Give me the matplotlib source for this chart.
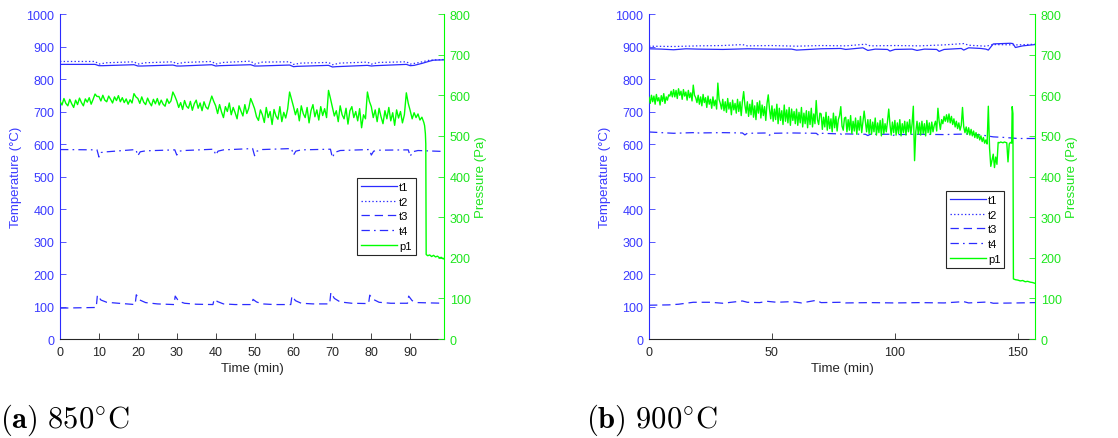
import numpy as np
import matplotlib
matplotlib.use('Agg')
import matplotlib.pyplot as plt

# ---------------- (a) 850 C run ----------------
a_t1_time = [0, 9, 10, 11, 19, 20, 21, 29, 30, 31, 39, 40, 41, 49, 50, 51, 59, 60, 61,
             69, 70, 71, 79, 80, 81, 89, 90, 91, 93, 95, 96, 98.7]
a_t1 = [845, 845, 841, 841, 844, 840, 840, 843, 840, 840, 844, 840, 841, 844, 840, 840,
        843, 838, 839, 842, 837, 838, 842, 840, 841, 845, 841, 842, 848, 855, 858, 859]

a_t2_time = [0, 9, 10, 12, 19, 20, 22, 29, 30, 32, 39, 40, 42, 49, 50, 52, 59, 60, 62,
             69, 70, 72, 79, 80, 82, 89, 90, 92, 95, 98.7]
a_t2 = [854, 854, 846, 850, 853, 846, 850, 853, 847, 851, 854, 846, 851, 855, 846, 852,
        853, 845, 849, 851, 844, 849, 852, 846, 851, 853, 846, 850, 858, 860]

a_t3_time = [0, 9.3, 9.6, 10.5, 12, 15, 19.3, 19.6, 20.5, 22, 25, 29.3, 29.6, 30.5, 32, 35,
             39.3, 39.6, 40.5, 42, 45, 49.3, 49.6, 50.5, 52, 55, 59.3, 59.6, 60.5, 62, 65,
             69.3, 69.6, 70.5, 72, 75, 79.3, 79.6, 80.5, 82, 85, 89.3, 89.6, 90.5, 92, 98.7]
a_t3 = [95, 97, 135, 120, 113, 110, 106, 136, 120, 112, 108, 106, 132, 116, 110, 107,
        106, 122, 115, 108, 106, 106, 122, 114, 108, 106, 106, 132, 118, 110, 108,
        108, 143, 125, 114, 110, 109, 135, 122, 113, 110, 110, 132, 118, 112, 110]

a_t4_time = [0, 9.5, 10, 10.6, 12, 19.5, 20, 20.6, 22, 29.5, 30, 30.6, 32, 39.5, 40, 40.6, 42,
             49.5, 50, 50.6, 52, 59.5, 60, 60.6, 62, 69.5, 70, 70.6, 72, 79.5, 80, 80.6, 82,
             89.5, 90, 90.6, 92, 98.7]
a_t4 = [583, 582, 560, 574, 576, 583, 564, 576, 579, 582, 566, 578, 580, 584, 566, 578, 582,
        586, 564, 578, 583, 586, 566, 578, 582, 584, 558, 574, 580, 583, 566, 578, 581,
        582, 562, 576, 580, 577]

# pressure sampled every half minute up to 93.5 min, then the final drop
a_p1_grid = [
    585, 576, 592, 580, 574, 590, 579, 570, 588, 577, 593, 582, 574, 591, 583, 594, 578, 590,
    603, 597,
    597, 586, 600, 588, 584, 598, 590, 581, 596, 587, 599, 584, 594, 582, 591, 578, 589, 581,
    604, 596,
    592, 580, 596, 583, 577, 593, 582, 574, 590, 579, 592, 576, 588, 578, 573, 591, 580, 586,
    608, 598,
    586, 570, 582, 565, 587, 573, 568, 585, 563, 579, 588, 568, 581, 562, 584, 571, 566, 582,
    598, 585,
    574, 555, 577, 559, 545, 572, 560, 581, 552, 570, 557, 542, 574, 561, 549, 577, 555, 568,
    592, 580,
    567, 547, 538, 564, 552, 533, 570, 545, 560, 528, 565, 549, 541, 572, 535, 558, 544, 566,
    608, 590,
    572, 552, 567, 537, 574, 555, 545, 570, 532, 562, 577, 547, 564, 539, 572, 550, 567, 545,
    612, 592,
    570, 549, 562, 535, 574, 552, 542, 568, 529, 562, 572, 545, 560, 537, 567, 520, 552, 542,
    608, 585,
    572, 545, 564, 535, 568, 547, 530, 562, 542, 570, 537, 557, 526, 564, 544, 560, 532, 552,
    606, 580,
    562, 542, 557, 545, 554, 539, 546, 533]
a_p1_tail_time = [93.7, 93.9, 94.0, 94.1, 94.5, 95, 95.5, 96, 96.5, 97, 97.5, 98, 98.5, 98.7]
a_p1_tail = [525, 505, 480, 208, 205, 207, 203, 206, 202, 204, 200, 201, 197, 199]

# ---------------- (b) 900 C run ----------------
b_t1_time = [0, 5, 10, 15, 20, 30, 40, 50, 58, 60, 70, 78, 80, 87, 89, 92, 97, 98, 100, 107,
             109, 112, 117, 118, 120, 127, 128, 130, 135, 137, 138, 140, 147, 148, 149, 152, 157]
b_t1 = [893, 892, 890, 893, 892, 891, 893, 892, 892, 889, 893, 894, 891, 896, 888, 892, 891,
        886, 891, 892, 888, 892, 891, 885, 891, 894, 889, 896, 894, 892, 889, 908, 910, 909,
        897, 902, 906]

b_t2_time = [0, 10, 20, 30, 38, 40, 50, 60, 70, 80, 88, 90, 100, 110, 120, 128, 130, 137, 140,
             150, 157]
b_t2 = [901, 900, 902, 903, 906, 902, 903, 901, 903, 902, 907, 902, 903, 902, 905, 909, 904,
        901, 906, 905, 907]

b_t3_time = [0, 8, 12, 18, 25, 30, 38, 40, 45, 48, 52, 58, 62, 68, 70, 78, 80, 90, 100, 110,
             120, 128, 130, 138, 140, 150, 157]
b_t3 = [104, 105, 107, 113, 113, 110, 117, 113, 112, 116, 113, 115, 111, 119, 112, 113, 111,
        112, 111, 112, 111, 115, 111, 114, 110, 111, 112]

b_t4_time = [0, 10, 18, 19, 20, 30, 38, 39, 40, 48, 49, 50, 58, 68, 69, 70, 78, 79, 80, 88,
             89, 90, 98, 99, 100, 110, 120, 130, 135, 140, 145, 150, 157]
b_t4 = [637, 633, 635, 631, 634, 635, 634, 628, 633, 634, 627, 633, 634, 633, 627, 633, 631,
        626, 631, 630, 626, 630, 630, 625, 629, 630, 629, 631, 628, 622, 620, 617, 617]

# pressure sampled every half minute up to 147.5 min, then the final drop
b_p1_grid = [
    595, 580, 600, 584, 598, 578, 602, 586, 594, 576, 599, 585, 604, 580, 596, 588, 601, 598, 610, 596,
    614, 596, 612, 592, 616, 600, 610, 590, 614, 598, 608, 588, 612, 594, 606, 586, 625, 600, 594, 582,
    600, 578, 596, 574, 602, 582, 594, 570, 598, 578, 590, 568, 596, 574, 588, 566, 630, 590, 580, 566,
    590, 562, 584, 558, 592, 566, 582, 552, 588, 564, 580, 556, 590, 560, 584, 550, 586, 609, 576, 556,
    584, 548, 578, 552, 588, 546, 574, 540, 582, 556, 586, 544, 576, 550, 572, 538, 580, 601, 566, 542,
    574, 536, 566, 540, 578, 530, 568, 538, 562, 528, 576, 536, 564, 532, 570, 526, 566, 538, 560, 530,
    566, 526, 558, 532, 570, 522, 556, 530, 562, 520, 560, 528, 568, 522, 554, 530, 587, 540, 528, 556,
    554, 516, 546, 522, 558, 514, 548, 518, 542, 510, 556, 520, 548, 512, 540, 550, 572, 524, 514, 544,
    546, 510, 540, 514, 550, 506, 536, 512, 544, 504, 538, 514, 548, 508, 534, 561, 536, 510, 540, 506,
    540, 504, 534, 510, 544, 502, 532, 508, 538, 500, 542, 506, 530, 510, 536, 566, 528, 502, 534, 508,
    538, 502, 532, 506, 540, 500, 530, 508, 536, 502, 534, 510, 540, 504, 530, 573, 439, 510, 536, 504,
    532, 502, 536, 506, 530, 500, 538, 508, 532, 504, 534, 510, 526, 536, 512, 568, 536, 516, 540, 530,
    548, 536, 552, 534, 554, 532, 548, 528, 542, 522, 536, 518, 532, 514, 526, 570, 522, 508, 522, 504,
    520, 502, 516, 500, 512, 496, 508, 494, 504, 490, 500, 486, 496, 482, 490, 480, 573, 470, 425, 440,
    455, 422, 448, 430, 484, 483, 485, 484, 483, 485, 484, 483, 436, 480, 484, 482]
b_p1_tail_time = [147.7, 148.0, 148.2, 149, 150, 151, 152, 153, 154, 155, 156, 157]
b_p1_tail = [572, 555, 148, 146, 145, 143, 144, 141, 142, 140, 139, 137]

BLUE = '#2b2bff'
BLUE_TXT = '#3a3aff'
GREEN = '#00ff00'
GREEN_TXT = '#1ee61e'
DARK = '#262626'

plt.rcParams['font.family'] = ['Liberation Sans', 'DejaVu Sans']
plt.rcParams['mathtext.fontset'] = 'cm'
plt.rcParams['lines.scale_dashes'] = False


def draw_panel(fig, rect, temps, p_time, p_vals, xmax, xticks, legend_anchor):
  ax = fig.add_axes(rect)
  ax2 = ax.twinx()

  styles = ['-', (0, (1, 1.6)), (0, (6, 3.5)), (0, (6, 3, 1.2, 3))]
  handles = []
  for (t, v, name), ls in zip(temps, styles):
    h, = ax.plot(t, v, color=BLUE, lw=0.9, linestyle=ls, label=name)
    handles.append(h)
  hp, = ax2.plot(p_time, p_vals, color=GREEN, lw=1.0, label='p1')
  handles.append(hp)

  ax.set_xlim(0, xmax)
  ax.set_ylim(0, 1000)
  ax2.set_ylim(0, 800)
  ax.set_xticks(xticks)
  ax.set_yticks(np.arange(0, 1001, 100))
  ax2.set_yticks(np.arange(0, 801, 100))

  for a in (ax, ax2):
    a.spines['top'].set_visible(False)
  ax.spines['right'].set_visible(False)
  ax2.spines['left'].set_visible(False)
  ax2.spines['bottom'].set_visible(False)
  ax.spines['left'].set_color(BLUE)
  ax2.spines['right'].set_color(GREEN)
  ax.spines['bottom'].set_color(DARK)
  for s in ('left', 'bottom'):
    ax.spines[s].set_linewidth(0.8)
  ax2.spines['right'].set_linewidth(0.8)

  ax.tick_params(axis='x', direction='in', length=4, width=0.6, colors=DARK,
                 labelsize=9, pad=5)
  ax.tick_params(axis='y', direction='in', length=4, width=0.6, colors=BLUE_TXT,
                 labelsize=9, pad=4)
  ax2.tick_params(axis='y', direction='in', length=4, width=0.6, colors=GREEN_TXT,
                  labelsize=9, pad=4)

  ax.set_xlabel('Time (min)', fontsize=9.5, color=DARK, labelpad=3)
  ax.set_ylabel('Temperature (°C)', fontsize=9.5, color=BLUE_TXT, labelpad=3)
  ax2.set_ylabel('Pressure (Pa)', fontsize=9.5, color=GREEN_TXT, labelpad=3)

  leg = ax2.legend(handles=handles, loc='upper left', bbox_to_anchor=legend_anchor,
                   fontsize=8, handlelength=3.3, handletextpad=0.15,
                   labelspacing=0.42, borderpad=0.35, borderaxespad=0,
                   fancybox=False, framealpha=1)
  leg.get_frame().set_edgecolor(DARK)
  leg.get_frame().set_linewidth(0.8)
  return ax, ax2


def main():
  fig = plt.figure(figsize=(11.18, 4.39), dpi=100)

  a_p_time = np.concatenate([np.arange(len(a_p1_grid)) * 0.5, a_p1_tail_time])
  a_p_vals = np.concatenate([a_p1_grid, a_p1_tail])
  draw_panel(fig, [0.0537, 0.2255, 0.3435, 0.7403],
             [(a_t1_time, a_t1, 't1'), (a_t2_time, a_t2, 't2'),
              (a_t3_time, a_t3, 't3'), (a_t4_time, a_t4, 't4')],
             a_p_time, a_p_vals, 98.7, np.arange(0, 91, 10), (0.773, 0.495))

  b_p_time = np.concatenate([np.arange(len(b_p1_grid)) * 0.5, b_p1_tail_time])
  b_p_vals = np.concatenate([b_p1_grid, b_p1_tail])
  draw_panel(fig, [0.5805, 0.2255, 0.3453, 0.7403],
             [(b_t1_time, b_t1, 't1'), (b_t2_time, b_t2, 't2'),
              (b_t3_time, b_t3, 't3'), (b_t4_time, b_t4, 't4')],
             b_p_time, b_p_vals, 157, [0, 50, 100, 150], (0.769, 0.455))

  fig.text(0.0, 0.025, r'$\mathbf{(a)}\ 850^{\circ}\mathrm{C}$', fontsize=22,
           ha='left', va='baseline')
  fig.text(0.524, 0.025, r'$\mathbf{(b)}\ 900^{\circ}\mathrm{C}$', fontsize=22,
           ha='left', va='baseline')

  fig.savefig('out.png', dpi=100)


main()
